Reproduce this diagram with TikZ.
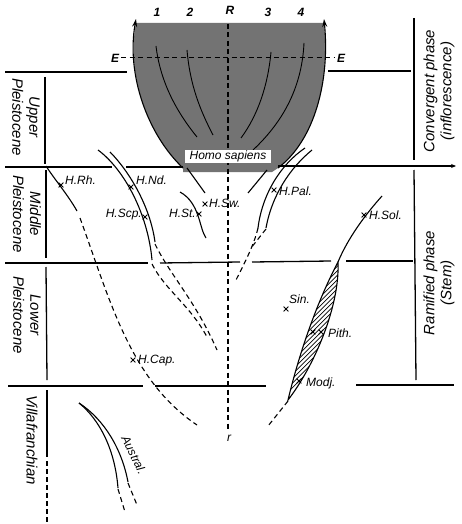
\documentclass[tikz,border=0pt]{standalone}
\usepackage{fontspec}
\setmainfont{Liberation Sans}
\usetikzlibrary{arrows.meta,shapes.misc}
\begin{document}
\begin{tikzpicture}[x=1pt,y=-1pt,
  lbl/.style={font=\fontsize{12}{12}\selectfont\itshape, inner sep=1pt},
  big/.style={font=\fontsize{15}{17}\selectfont\itshape, align=center, inner sep=0pt},
  num/.style={font=\fontsize{12}{12}\selectfont\bfseries\itshape, inner sep=0pt},
  xm/.style={cross out, draw, minimum size=4pt, inner sep=0pt, line width=0.8pt},
  rule/.style={line width=1.3pt},
  ln/.style={line width=1.1pt},
  thin/.style={line width=0.9pt},
  dsh/.style={line width=1.1pt, dash pattern=on 5pt off 3.5pt},
  tip/.style={-{Stealth[length=8pt,width=5pt]}}
]
\useasboundingbox (0,0) rectangle (462,524);

% ---- bowl (convergent phase)
\fill[black!55] (136,23) -- (324,23) .. controls (330,80) and (315,140) .. (278,168)
  -- (272,172) -- (183,172) -- (183,168) .. controls (148,135) and (126,75) .. (136,23) -- cycle;
\draw[ln,tip] (183,168) .. controls (148,135) and (126,75) .. (136,19);
\draw[ln,tip] (278,168) .. controls (315,140) and (330,80) .. (324,19);

% inner lines 1-4
\draw[thin] (156,46) .. controls (160,80) and (175,110) .. (197,137);
\draw[thin] (187,50) .. controls (190,85) and (200,110) .. (213,135);
\draw[thin] (271,52) .. controls (268,85) and (258,115) .. (241,138);
\draw[thin] (304,43) .. controls (302,85) and (285,120) .. (253,150);

% E line
\draw[dsh,line width=1pt] (121,58) -- (335,58);
\node[num,font=\fontsize{12}{12}\selectfont\bfseries\itshape] (eL) at (115,58) {E};
\node[num,font=\fontsize{12}{12}\selectfont\bfseries\itshape] (eR) at (341,58) {E};

% numbers
\node[num] (n1) at (157,12) {1};
\node[num] (n2) at (190,12) {2};
\node[num] (nR) at (230,10) {R};
\node[num] (n3) at (268,12) {3};
\node[num] (n4) at (301,12) {4};

% R axis
\draw[dsh] (228,24) -- (228,430);
\node[lbl] (nr) at (229,438) {r};

% Homo sapiens label
\node[fill=white, minimum width=86pt, minimum height=13pt, inner sep=0pt,
  font=\fontsize{12}{12}\selectfont\itshape] (hs) at (228,156.5) {Homo sapiens};

% ---- horizontal rules
\draw[rule] (5,72) -- (127,72);
\draw[rule] (328,71) -- (411,71);
\draw[rule] (5,167) -- (112,167);
\draw[rule] (126,167) -- (183,167);
\draw[rule,-{Stealth[length=5pt,width=4pt]}] (278,166) -- (456,166);
\draw[rule] (5,263) -- (148,263);
\draw[rule] (160,263) -- (240,262);
\draw[rule] (252,262) -- (331,261);
\draw[rule] (346,261) -- (413,261);
\draw[rule] (8,386) -- (143,386);
\draw[rule] (155,386) -- (266,386);
\draw[rule] (356,385) -- (454,385);

% ---- vertical rules
\draw[rule] (45,77) -- (45,164);
\draw[rule] (46,170) -- (46,258);
\draw[rule] (46,267) -- (47,380);
\draw[rule] (47,390) -- (47,457);
\draw[rule,dash pattern=on 5pt off 3pt] (47,461) -- (47,522);
\draw[rule] (414,18) -- (414,160);
\draw[rule] (414,170) -- (416,380);

% ---- period labels
\node[big,rotate=-90] (up) at (26,117) {Upper\\Pleistocene};
\node[big,rotate=-90] (mp) at (27,214) {Middle\\Pleistocene};
\node[big,rotate=-90] (lp) at (27,315) {Lower\\Pleistocene};
\node[big,rotate=-90] (vf) at (32,440) {Villafranchian};
\node[big,rotate=90] (cp) at (439,91) {Convergent phase\\(inflorescence)};
\node[big,rotate=90] (rp) at (439,283) {Ramified phase\\(Stem)};

% ---- H. Rh. / H. Cap.
\draw[ln] (46,166) .. controls (55,180) and (68,195) .. (77,211);
\draw[dsh] (80,218) .. controls (110,300) and (130,380) .. (197,425);
\node[xm] (mrh) at (61,185) {};
\node[lbl,anchor=west] (trh) at (64,180) {H.Rh.};
\node[xm] (mcap) at (133,360) {};
\node[lbl,anchor=west] (tcap) at (137,361) {H.Cap.};

% ---- H. Nd. / H. Scp.
\draw[ln] (98,150) .. controls (125,170) and (148,215) .. (152,260);
\draw[ln] (110,152) .. controls (128,170) and (150,205) .. (155,242);
\draw[dsh] (155,244) .. controls (170,275) and (195,300) .. (217,350);
\draw[dsh] (152,264) .. controls (165,290) and (190,305) .. (207,337);
\node[xm] (mnd) at (131,187) {};
\node[lbl,anchor=west] (tnd) at (135,180) {H.Nd.};
\node[xm] (mscp) at (145,217) {};
\node[lbl,anchor=east] (tscp) at (143,215) {H.Scp.};

% ---- H. St.
\draw[ln] (180,192) .. controls (200,203) and (199,228) .. (206,238);
\node[xm] (mst) at (199,214) {};
\node[lbl,anchor=east] (tst) at (197,213) {H.St.};

% ---- H. Sw. and right stub
\draw[ln] (187,168) -- (205,193);
\draw[ln] (267,170) -- (248,193);
\node[xm] (msw) at (205,204) {};
\node[lbl,anchor=west] (tsw) at (208,203) {H.Sw.};

% ---- H. Pal.
\draw[ln] (305,148) .. controls (280,165) and (262,195) .. (258,228);
\draw[dsh] (258,228) .. controls (254,245) and (245,262) .. (236,280);
\draw[ln] (312,150) .. controls (290,168) and (272,195) .. (266,228);
\draw[dsh] (266,229) -- (251,248);
\node[xm] (mpal) at (274,190) {};
\node[lbl,anchor=west] (tpal) at (278,191) {H.Pal.};

% ---- H. Sol. / Pith. / Modj.
\draw[ln] (338,262) .. controls (348,238) and (365,215) .. (382,196);
\begin{scope}
  \clip (338,262) .. controls (318,300) and (300,350) .. (288,400)
    .. controls (315,365) and (340,305) .. (338,262) -- cycle;
  \foreach \k in {0,...,40} {
    \draw[line width=0.7pt] (250,250+4.5*\k) -- +(120,-120);
  }
\end{scope}
\draw[ln] (338,262) .. controls (318,300) and (300,350) .. (288,400)
  .. controls (315,365) and (340,305) .. (338,262) -- cycle;
\draw[dsh] (288,401) -- (268,426);
\node[xm] (msol) at (364,215) {};
\node[lbl,anchor=west] (tsol) at (368,215) {H.Sol.};
\node[xm] (msin) at (286,309) {};
\node[lbl,anchor=west] (tsin) at (288,299) {Sin.};
\node[xm] (mpa) at (313,332) {};
\node[xm] (mpb) at (321,332) {};
\node[lbl,anchor=west] (tpith) at (327,333) {Pith.};
\node[xm] (mmod) at (299,381) {};
\node[lbl,anchor=west] (tmod) at (305,383) {Modj.};

% ---- Austral.
\draw[ln] (79,403) .. controls (100,420) and (115,450) .. (118,488);
\draw[dsh] (118,489) -- (125,512);
\draw[ln] (79,403) .. controls (105,420) and (122,450) .. (128,482);
\draw[dsh] (128,483) -- (137,505);
\node[lbl,rotate=-64] (taus) at (134,455) {Austral.};
\end{tikzpicture}
\end{document}
